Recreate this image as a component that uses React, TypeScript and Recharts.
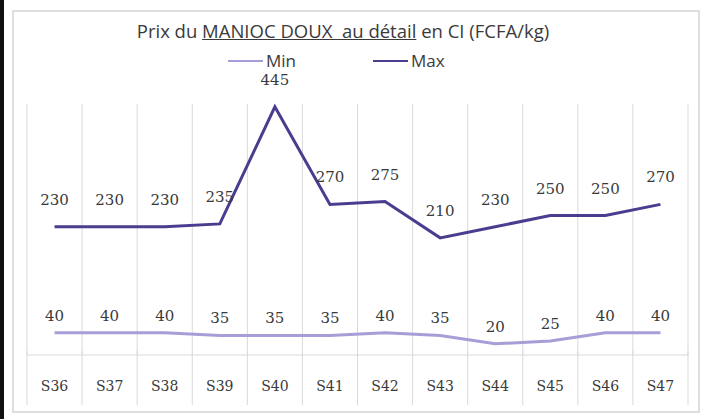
import { LineChart, Line, XAxis, YAxis, CartesianGrid, LabelList } from 'recharts'

const WEEKS = ['S36', 'S37', 'S38', 'S39', 'S40', 'S41', 'S42', 'S43', 'S44', 'S45', 'S46', 'S47']
const MIN_PRICES = [40, 40, 40, 35, 35, 35, 40, 35, 20, 25, 40, 40]
const MAX_PRICES = [230, 230, 230, 235, 445, 270, 275, 210, 230, 250, 250, 270]

const MIN_COLOR  = '#a69ed6'
const MAX_COLOR  = '#4a3d8f'
const GRID_COLOR = '#d9d9d9'
const TEXT_COLOR = '#3a3a3a'
const LABEL_FONT = '"DejaVu Serif", serif'
const TITLE_FONT = '"Open Sans", sans-serif'

const data = WEEKS.map((w, i) => ({ week: w, min: MIN_PRICES[i], max: MAX_PRICES[i] }))

function XTick(props: any) {
  const { x = 0, y = 0, payload, index, visibleTicksCount } = props
  const half = payload?.offset || 27.5
  const last = index === (visibleTicksCount ?? WEEKS.length) - 1
  return (
    <g>
      <line x1={x - half} x2={x - half} y1={y - 12} y2={y + 42} stroke={GRID_COLOR} />
      {last && <line x1={x + half} x2={x + half} y1={y - 12} y2={y + 42} stroke={GRID_COLOR} />}
      <text x={x} y={y} dy={28} textAnchor="middle" fontSize={14} fontFamily={LABEL_FONT} fill={TEXT_COLOR}>
        {payload?.value}
      </text>
    </g>
  )
}

function makeLabel(lift: number) {
  return (props: any) => {
    const { x = 0, y = 0, value } = props
    return (
      <text x={x} y={y - lift} textAnchor="middle" fontSize={15} fontFamily={LABEL_FONT} fill={TEXT_COLOR}>
        {value}
      </text>
    )
  }
}

function LegendItem({ color, name }: { color: string; name: string }) {
  return (
    <div style={{ display: 'flex', alignItems: 'center', gap: 3 }}>
      <div style={{ width: 35, height: 2, background: color }} />
      <span>{name}</span>
    </div>
  )
}

export default function App() {
  return (
    <div style={{ position: 'absolute', left: 0, top: 0, width: 703, height: 419, background: '#fff', overflow: 'hidden' }}>
      <div style={{ position: 'absolute', left: 0, top: 0, width: 4, height: 419, background: '#111' }} />
      <div style={{ position: 'absolute', left: 12, top: 10, width: 684, height: 399, border: '2px solid #dedede' }} />
      <div style={{ position: 'absolute', left: 0, top: 18, width: 686, textAlign: 'center', fontFamily: TITLE_FONT, fontSize: 18.5, color: TEXT_COLOR, whiteSpace: 'nowrap' }}>
        Prix du <span style={{ textDecoration: 'underline' }}>MANIOC DOUX&nbsp; au détail</span> en CI (FCFA/kg)
      </div>
      <div style={{ position: 'absolute', left: 228, top: 49, display: 'flex', gap: 77, fontFamily: TITLE_FONT, fontSize: 17, color: TEXT_COLOR }}>
        <LegendItem color={MIN_COLOR} name="Min" />
        <LegendItem color={MAX_COLOR} name="Max" />
      </div>
      <LineChart width={703} height={419} data={data} margin={{ top: 104, right: 15, left: 27, bottom: 0 }} style={{ position: 'absolute', left: 0, top: 0 }}>
        <CartesianGrid
          horizontal={false}
          stroke={GRID_COLOR}
          verticalCoordinatesGenerator={({ offset }: any) =>
            Array.from({ length: WEEKS.length + 1 }, (_, i) => offset.left + (i * offset.width) / WEEKS.length)
          }
        />
        <XAxis dataKey="week" scale="band" axisLine={{ stroke: GRID_COLOR }} tickLine={false} tick={<XTick />} height={64} interval={0} />
        <YAxis hide domain={[0, 450]} />
        <Line dataKey="min" name="Min" stroke={MIN_COLOR} strokeWidth={3} dot={false} isAnimationActive={false}>
          <LabelList dataKey="min" content={makeLabel(12)} />
        </Line>
        <Line dataKey="max" name="Max" stroke={MAX_COLOR} strokeWidth={3} dot={false} isAnimationActive={false}>
          <LabelList dataKey="max" content={makeLabel(22)} />
        </Line>
      </LineChart>
    </div>
  )
}
